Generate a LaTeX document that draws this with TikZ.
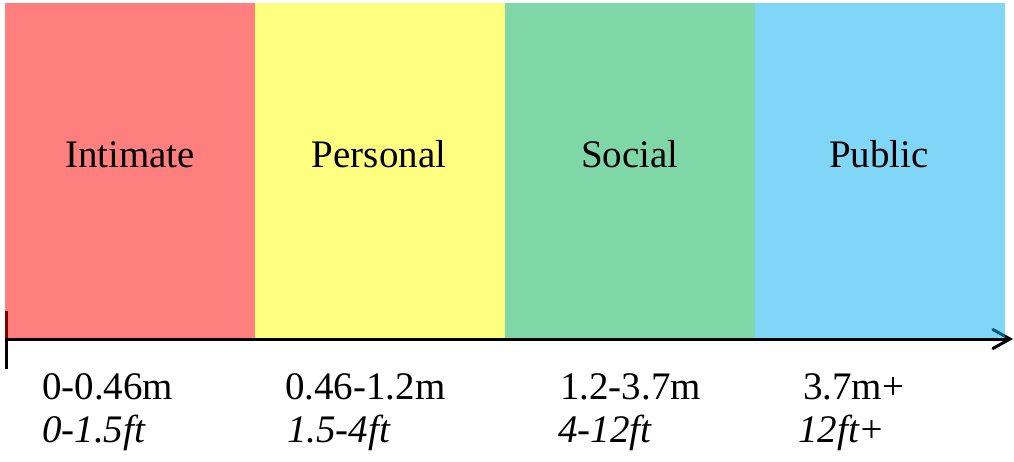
\documentclass[tikz,border=0pt]{standalone}
\usepackage{fontspec}
\setmainfont{Liberation Serif}
\usetikzlibrary{arrows.meta}
\definecolor{bandred}{RGB}{255,0,0}
\definecolor{bandyellow}{RGB}{255,255,0}
\definecolor{bandgreen}{RGB}{0,176,80}
\definecolor{bandblue}{RGB}{0,174,240}
\tikzset{
  band/.style={draw=none, fill opacity=0.5, minimum width=250pt, minimum height=334.5pt, inner sep=0pt, anchor=north west},
  zone/.style={inner sep=0pt, anchor=base, font=\fontsize{39}{40}\selectfont},
  dist/.style={inner sep=0pt, anchor=base west, font=\fontsize{39}{40}\selectfont},
  ft/.style={dist, font=\fontsize{39}{40}\selectfont\itshape},
  axisline/.style={line width=3pt, -{Straight Barb[length=17pt,width=19pt,line cap=round]}},
  ticker/.style={line width=3pt}
}
\begin{document}
\begin{tikzpicture}[x=1pt,y=-1pt]
\useasboundingbox (0,0) rectangle (1014,461);
\coordinate (axstart) at (5,339);
\coordinate (axend) at (1013,339);
\coordinate (tickt) at (6.5,311);
\coordinate (tickb) at (6.5,369);
\draw[axisline] (axstart) -- (axend);
\draw[ticker] (tickt) -- (tickb);
\node[band, fill=bandred] (bred) at (5,3) {};
\node[band, fill=bandyellow] (byellow) at (255,3) {};
\node[band, fill=bandgreen] (bgreen) at (505,3) {};
\node[band, fill=bandblue] (bblue) at (755,3) {};
\node[zone] (intimate) at (130,167) {Intimate};
\node[zone] (personal) at (379,167) {Personal};
\node[zone] (social) at (630,167) {Social};
\node[zone] (public) at (879,167) {Public};
\node[dist] (m1) at (42,399) {0-0.46m};
\node[ft] (f1) at (42,442) {0-1.5ft};
\node[dist] (m2) at (285,399) {0.46-1.2m};
\node[ft] (f2) at (287,442) {1.5-4ft};
\node[dist] (m3) at (560,399) {1.2-3.7m};
\node[ft] (f3) at (558,442) {4-12ft};
\node[dist] (m4) at (803,399) {3.7m+};
\node[ft] (f4) at (798,442) {12ft+};
\end{tikzpicture}
\end{document}
